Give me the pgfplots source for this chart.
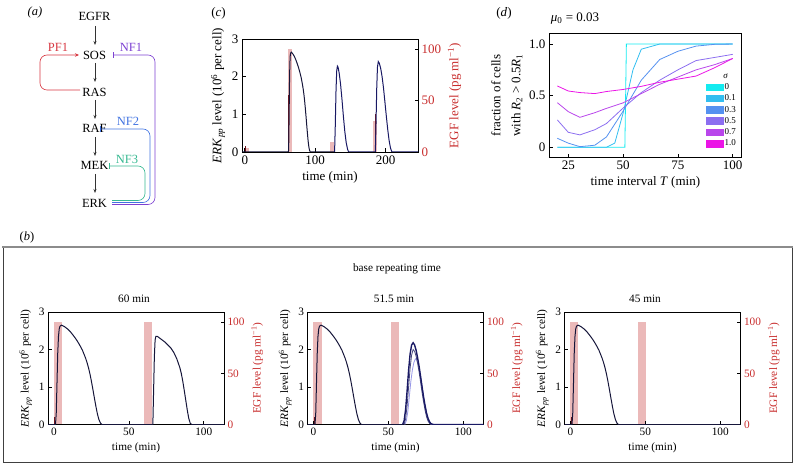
\documentclass[border=0pt]{standalone}
\usepackage{fontspec}
\setmainfont{Liberation Serif}
\usepackage{pgfplots}
\pgfplotsset{compat=1.18}
\usetikzlibrary{arrows.meta}

\definecolor{egf}{RGB}{235,185,185}
\definecolor{egftxt}{RGB}{200,45,45}
\definecolor{erk}{RGB}{22,22,58}
\definecolor{erkblue}{RGB}{25,25,100}
\definecolor{erkl}{RGB}{150,150,230}
\definecolor{erkred}{RGB}{110,20,30}
\definecolor{pfred}{RGB}{215,55,65}
\definecolor{nfone}{RGB}{125,65,210}
\definecolor{nftwo}{RGB}{65,115,225}
\definecolor{nfthree}{RGB}{55,185,145}
\definecolor{sA}{RGB}{20,235,240}
\definecolor{sB}{RGB}{50,190,240}
\definecolor{sC}{RGB}{85,145,240}
\definecolor{sD}{RGB}{140,110,240}
\definecolor{sE}{RGB}{185,70,235}
\definecolor{sF}{RGB}{235,20,230}

\newcommand{\fb}{\fontsize{11.3}{13}\selectfont}
\newcommand{\fc}{\fontsize{13}{15}\selectfont}
\newcommand{\fa}{\fontsize{12.5}{14}\selectfont}
\newcommand{\erklab}{\textit{ERK}\textsubscript{\textit{pp}} level (10\textsuperscript{6} per cell)}
\newcommand{\egflab}{EGF level (pg ml\textsuperscript{−1})}

\pgfplotsset{
  base/.style={scale only axis, major tick length=3.5pt,
    axis line style={line width=0.7pt}, every tick/.style={line width=0.7pt, black},
    /pgf/number format/assume math mode=true},
  erkax/.style={base, tick align=inside, width=176pt, height=112.5pt, xmin=-4, xmax=113.5, ymin=0, ymax=3,
     xtick={0,50,100}, ytick={0,1,2,3}, xtick pos=bottom, ytick pos=left,
     ticklabel style={font=\fb}, label style={font=\fb},
     xlabel={time (min)}, ylabel={\erklab}},
  egfax/.style={base, width=176pt, height=112.5pt, xmin=-4, xmax=113.5, ymin=0, ymax=110,
     axis y line*=right, axis x line=none, tick align=inside, ytick={0,50,100},
     yticklabel style={font=\fb, text=egftxt}, ylabel style={font=\fb, text=egftxt},
     ylabel={\egflab}},
}

\begin{document}
\begin{tikzpicture}[x=1pt,y=1pt]
\useasboundingbox (0,0) rectangle (795,466);

% ---------------- panel (a) ----------------
\node[font=\fa\itshape] at (35,454) {(\textit{a})};
\begin{scope}[every node/.style={font=\fa, inner sep=0pt}]
\node at (94.5,450) {EGFR};
\node at (94.5,411) {SOS};
\node at (94.5,374) {RAS};
\node at (94.5,338) {RAF};
\node at (94.5,301) {MEK};
\node at (94.5,263) {ERK};
\end{scope}
\begin{scope}[black!80, line width=0.6pt, -{Stealth[length=4pt,width=3pt]}]
\draw (95,440) -- (95,421);
\draw (95,403) -- (95,384);
\draw (95,366) -- (95,347);
\draw (95,329) -- (95,310);
\draw (95,292) -- (95,273);
\end{scope}
\draw[pfred, line width=0.6pt, rounded corners=7pt, -{Stealth[length=4pt,width=3.5pt]}] (80,376) -- (40,376) -- (40,411) -- (79,411);
\node[pfred, font=\fa] at (58,419) {PF1};
\draw[nfone, line width=0.6pt, rounded corners=7pt, -{Bar[width=6pt]}] (112,261.5) -- (155,261.5) -- (155,411) -- (113,411);
\node[nfone, font=\fa] at (131,419) {NF1};
\draw[nftwo, line width=0.6pt, rounded corners=7pt, -{Bar[width=6pt]}] (112,263.5) -- (150,263.5) -- (150,337) -- (100,337);
\node[nftwo, font=\fa] at (128,345) {NF2};
\draw[nfthree, line width=0.6pt, rounded corners=7pt, -{Bar[width=6pt]}] (112,265.5) -- (145,265.5) -- (145,300) -- (109,300);
\node[nfthree, font=\fa] at (127,307) {NF3};

% ---------------- panel (c) ----------------
\node[font=\fc] at (218.5,453) {(\textit{c})};
\begin{axis}[base, at={(242pt,314pt)}, anchor=south west, width=176pt, height=113pt,
   xmin=-4, xmax=246, ymin=0, ymax=110,
   axis y line*=right, axis x line=none, tick align=inside, ytick={0,50,100},
   yticklabel style={font=\fc, text=egftxt}, ylabel style={font=\fc, text=egftxt},
   ylabel={\egflab}]
\addplot[fill=egf, draw=none] coordinates {(0,0)(0,3.5)(5.5,3.5)(5.5,0)} -- cycle;
\addplot[fill=egf, draw=none] coordinates {(61,0)(61,100)(67,100)(67,0)} -- cycle;
\addplot[fill=egf, draw=none] coordinates {(121,0)(121,10)(127,10)(127,0)} -- cycle;
\addplot[fill=egf, draw=none] coordinates {(181.5,0)(181.5,30)(187.5,30)(187.5,0)} -- cycle;
\end{axis}
\begin{axis}[base, tick align=inside, at={(242pt,314pt)}, anchor=south west, width=176pt, height=113pt,
   xmin=-4, xmax=246, ymin=0, ymax=3, xtick={0,100,200}, ytick={0,1,2,3},
   xtick pos=bottom, ytick pos=left, ticklabel style={font=\fc}, label style={font=\fc},
   xlabel={time (min)}, ylabel={\erklab}]
\addplot[erkred, line width=0.8pt] coordinates {(0.3,0)(0.3,0.15)};
\addplot[erkred, line width=0.9pt] coordinates {(62.4,0)(62.4,1.5)};
\addplot[erk, line width=1pt] coordinates {(-4,0)(62,0)(62.5,0.3)(63,1.1)(63.5,1.9)(64,2.35)(64.5,2.55)(65,2.62)(66,2.65)(68,2.61)(70,2.55)(72,2.47)(74,2.37)(76,2.26)(78,2.13)(80,1.98)(82,1.78)(83,1.66)(84,1.52)(85,1.35)(86,1.15)(87,0.93)(88,0.7)(89,0.48)(90,0.28)(91,0.13)(92,0.04)(93,0)(127.5,0)};
\addplot[erkblue, line width=1pt] coordinates {(127.5,0)(128.5,0.7)(129.5,1.6)(130.5,2.15)(131.5,2.28)(132.5,2.25)(134,2.1)(136,1.8)(138,1.4)(140,0.95)(142,0.55)(144,0.25)(146,0.07)(147.5,0)(185.4,0)};
\addplot[erkred, line width=0.9pt] coordinates {(185.4,0)(185.4,1.0)};
\addplot[erkblue, line width=1pt] coordinates {(185.4,0)(186.4,0.8)(187.4,1.7)(188.4,2.25)(189.6,2.4)(191,2.36)(193,2.22)(195,2.0)(197,1.7)(199,1.33)(201,0.95)(203,0.6)(205,0.3)(207,0.1)(209,0)(246,0)};
\end{axis}

% ---------------- panel (d) ----------------
\node[font=\fc] at (504,453) {(\textit{d})};
\node[font=\fc] at (575,447) {\textit{μ}\textsubscript{0} = 0.03};
\begin{axis}[base, tick align=inside, at={(549pt,308.7pt)}, anchor=south west, width=192.7pt, height=124pt,
   xmin=16.2, xmax=104.1, ymin=-0.097, ymax=1.104, xtick={25,50,75,100}, ytick={0,0.5,1},
   yticklabels={0,0.5,1.0},
   xtick pos=bottom, ytick pos=left, ticklabel style={font=\fc}, label style={font=\fc},
   xlabel={time interval \textit{T} (min)},
   ylabel={fraction of cells\\with \textit{R}\textsubscript{2} > 0.5\textit{R}\textsubscript{1}},
   ylabel style={align=center, font=\fontsize{13}{20}\selectfont},
   legend image code/.code={\fill[#1] (0pt,-3.3pt) rectangle (17pt,3.3pt);},
   legend style={draw=none, fill=none, font=\fontsize{9}{10.8}\selectfont, at={(0.976,0.07)}, anchor=south east,
     row sep=1.8pt, inner sep=0pt, nodes={inner sep=1pt}},
   legend cell align=left]
\addplot[sA, line width=0.8pt] coordinates {(20,0)(50.8,0)(51.5,1)(100,1)};
\addplot[sB, line width=0.8pt] coordinates {(20,0)(30,0)(42.4,0)(46.2,0.04)(50,0.33)(54.5,0.75)(58.3,0.95)(66.7,1)(75,1)(100,1)};
\addplot[sC, line width=0.8pt] coordinates {(20,0.087)(25,0.04)(30.3,0.006)(37.1,0.02)(42.4,0.1)(50,0.35)(58.3,0.65)(66.7,0.85)(75,0.93)(83.3,0.98)(91.7,0.997)(100,1)};
\addplot[sD, line width=0.8pt] coordinates {(20,0.265)(25,0.145)(30.3,0.12)(37.1,0.17)(42.4,0.23)(50,0.38)(58.3,0.53)(66.7,0.65)(75,0.75)(83.3,0.84)(91.7,0.87)(100,0.9)};
\addplot[sE, line width=0.8pt] coordinates {(20,0.432)(25,0.345)(30.3,0.29)(37.1,0.335)(42.4,0.377)(50,0.43)(58.3,0.52)(66.7,0.61)(75,0.68)(83.3,0.75)(91.7,0.8)(100,0.86)};
\addplot[sF, line width=0.8pt] coordinates {(20,0.594)(25,0.545)(30.3,0.53)(37.1,0.52)(42.4,0.54)(50,0.56)(58.3,0.59)(66.7,0.63)(75,0.66)(83.3,0.69)(91.7,0.77)(100,0.86)};
\legend{0,0.1,0.3,0.5,0.7,1.0}
\node[font=\fontsize{9}{10}\selectfont\itshape] at (axis cs:96.8,0.69) {σ};
\end{axis}

% ---------------- panel (b) ----------------
\node[font=\fa] at (27,229) {(\textit{b})};
\draw[black!75, line width=0.8pt] (3,219) -- (3,4) -- (792,4) -- (792,219);
\draw[black!45, line width=1.6pt] (2,219) -- (793,219);
\node[font=\fb] at (397,197) {base repeating time};
\node[font=\fb] at (134,167) {60 min};
\node[font=\fb] at (394,167) {51.5 min};
\node[font=\fb] at (645,167) {45 min};

% left 60 min
\begin{axis}[egfax, at={(48pt,41.5pt)}, anchor=south west]
\addplot[fill=egf, draw=none] coordinates {(0,0)(0,100)(5.5,100)(5.5,0)} -- cycle;
\addplot[fill=egf, draw=none] coordinates {(60,0)(60,100)(65.5,100)(65.5,0)} -- cycle;
\end{axis}
\begin{axis}[erkax, at={(48pt,41.5pt)}, anchor=south west]
\addplot[erkred, line width=0.8pt] coordinates {(0.5,0)(0.5,0.2)};
\addplot[erk, line width=1pt] coordinates {(-4,0)(1,0)(1.5,0.3)(2,1.1)(2.5,1.9)(3,2.35)(3.5,2.55)(4,2.62)(5,2.65)(7,2.61)(9,2.55)(11,2.47)(13,2.37)(15,2.26)(17,2.13)(19,1.98)(21,1.78)(22,1.66)(23,1.52)(24,1.35)(25,1.15)(26,0.93)(27,0.7)(28,0.48)(29,0.28)(30,0.13)(31,0.04)(32,0)
 (66,0)(66.5,0.9)(67,1.8)(67.5,2.25)(68,2.35)(69,2.35)(70,2.32)(72,2.26)(74,2.2)(76,2.12)(78,2.04)(80,1.92)(82,1.75)(84,1.52)(85,1.36)(86,1.15)(87,0.9)(88,0.64)(89,0.38)(90,0.16)(91,0.03)(92,0)(113.5,0)};
\end{axis}

% middle 51.5 min
\begin{axis}[egfax, at={(307.5pt,41.5pt)}, anchor=south west]
\addplot[fill=egf, draw=none] coordinates {(0,0)(0,100)(5.5,100)(5.5,0)} -- cycle;
\addplot[fill=egf, draw=none] coordinates {(51.5,0)(51.5,100)(57,100)(57,0)} -- cycle;
\end{axis}
\begin{axis}[erkax, at={(307.5pt,41.5pt)}, anchor=south west]
\addplot[erkred, line width=0.8pt] coordinates {(0.5,0)(0.5,0.2)};
\addplot[erkl, line width=0.8pt] coordinates {(61,0)(62,0.1)(63,0.35)(64,0.75)(65,1.15)(66,1.45)(67,1.65)(68,1.75)(69,1.72)(70,1.6)(71,1.4)(72,1.15)(73,0.88)(74,0.62)(75,0.4)(76,0.22)(77,0.1)(78,0.03)(79,0)};
\addplot[erk!60!erkl, line width=0.8pt] coordinates {(60.5,0)(61.5,0.15)(62.5,0.5)(63.5,1.0)(64.5,1.5)(65.5,1.85)(66.5,2.0)(67.5,1.95)(68.5,1.82)(69.5,1.63)(70.5,1.4)(71.5,1.13)(72.5,0.85)(73.5,0.6)(74.5,0.38)(75.5,0.2)(76.5,0.09)(77.5,0.03)(78.5,0)};
\addplot[erk, line width=1pt] coordinates {(-4,0)(1,0)(1.5,0.3)(2,1.1)(2.5,1.9)(3,2.35)(3.5,2.55)(4,2.62)(5,2.65)(7,2.61)(9,2.55)(11,2.47)(13,2.37)(15,2.26)(17,2.13)(19,1.98)(21,1.78)(22,1.66)(23,1.52)(24,1.35)(25,1.15)(26,0.93)(27,0.7)(28,0.48)(29,0.28)(30,0.13)(31,0.04)(32,0)(59.5,0)};
\addplot[erkblue, line width=1.4pt] coordinates {(59.5,0)(60.5,0.1)(61.5,0.4)(62.5,0.9)(63.5,1.45)(64.5,1.88)(65.5,2.12)(66.5,2.18)(67.5,2.12)(68.5,1.98)(69.5,1.78)(70.5,1.55)(71.5,1.28)(72.5,1.0)(73.5,0.73)(74.5,0.5)(75.5,0.3)(76.5,0.16)(77.5,0.07)(78.5,0.02)(80,0)(113.5,0)};
\end{axis}

% right 45 min
\begin{axis}[egfax, at={(564.5pt,41.5pt)}, anchor=south west]
\addplot[fill=egf, draw=none] coordinates {(0,0)(0,100)(5,100)(5,0)} -- cycle;
\addplot[fill=egf, draw=none] coordinates {(45,0)(45,100)(50.5,100)(50.5,0)} -- cycle;
\end{axis}
\begin{axis}[erkax, at={(564.5pt,41.5pt)}, anchor=south west]
\addplot[erkred, line width=0.8pt] coordinates {(0.5,0)(0.5,0.2)};
\addplot[erk, line width=1pt] coordinates {(-4,0)(1,0)(1.5,0.3)(2,1.1)(2.5,1.9)(3,2.35)(3.5,2.55)(4,2.62)(5,2.65)(7,2.61)(9,2.55)(11,2.47)(13,2.37)(15,2.26)(17,2.13)(19,1.98)(21,1.78)(22,1.66)(23,1.52)(24,1.35)(25,1.15)(26,0.93)(27,0.7)(28,0.48)(29,0.28)(30,0.13)(31,0.04)(32,0)(113.5,0)};
\end{axis}
\end{tikzpicture}
\end{document}
